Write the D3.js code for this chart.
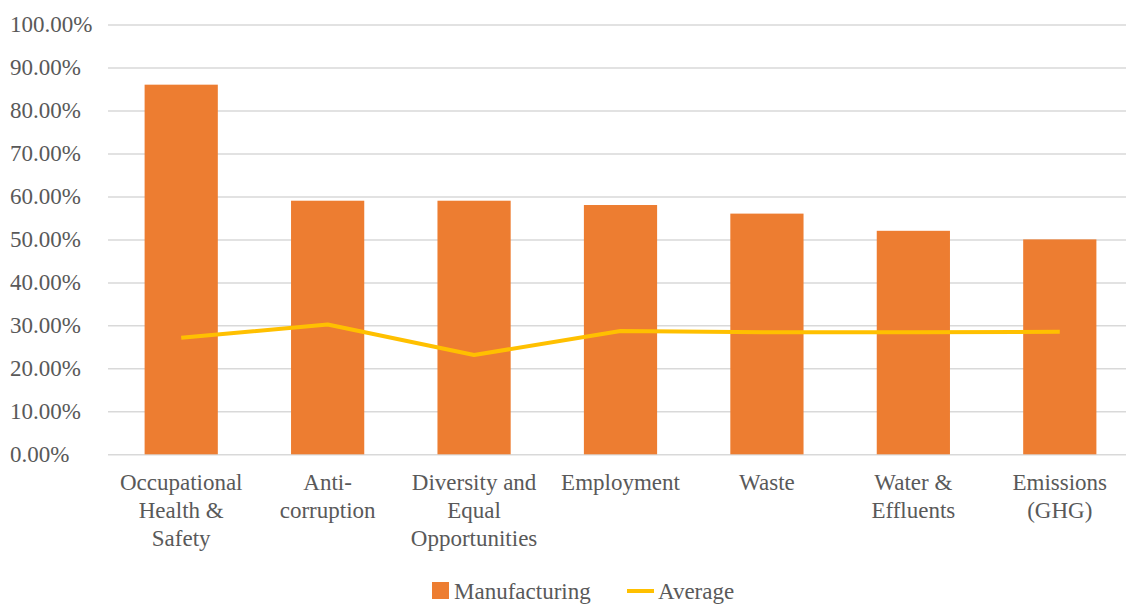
<!DOCTYPE html>
<html>
<head>
<meta charset="utf-8">
<script src="https://cdn.jsdelivr.net/npm/d3@7"></script>
</head>
<body style="margin:0">
<svg id="chart" width="1126" height="605"></svg>
<script>
// Share of reporting on each topic (percent)
const categories = [
  ["Occupational", "Health &", "Safety"],
  ["Anti-", "corruption"],
  ["Diversity and", "Equal", "Opportunities"],
  ["Employment"],
  ["Waste"],
  ["Water &", "Effluents"],
  ["Emissions", "(GHG)"]
];
const manufacturing = [86, 59, 59, 58, 56, 52, 50];
const average = [27.1, 30.2, 23.1, 28.7, 28.4, 28.4, 28.5];
const yTicks = [0, 10, 20, 30, 40, 50, 60, 70, 80, 90, 100];
const seriesNames = ["Manufacturing", "Average"];

const barColor = "#ED7D31";
const lineColor = "#FFC000";
const gridColor = "#d9d9d9";
const textColor = "#595959";

const svg = d3.select("#chart");
const keys = d3.range(categories.length);

const x = d3.scaleBand().domain(keys).range([108, 1133]).paddingInner(0.5).paddingOuter(0.25);
const y = d3.scaleLinear().domain([0, 100]).range([454.3, 24.5]);

function styleText(sel) {
  return sel.style("font-family", '"Liberation Serif"').style("font-size", "23px").attr("fill", textColor);
}

// Gridlines and value labels
const yAxis = d3.axisLeft(y).tickValues(yTicks)
  .tickSize(-(1126 - 108))
  .tickFormat(d => d.toFixed(2) + "%");
const gy = svg.append("g").attr("transform", "translate(108,0)").call(yAxis);
gy.select(".domain").remove();
gy.selectAll(".tick line").attr("stroke", gridColor).attr("stroke-width", 1.5);
gy.selectAll(".tick text")
  .attr("x", -98).attr("text-anchor", "start")
  .attr("dy", "0.32em")
  .call(styleText);

// Bars
svg.append("g").selectAll("rect").data(manufacturing).join("rect")
  .attr("x", (d, i) => x(i))
  .attr("width", x.bandwidth())
  .attr("y", d => y(d))
  .attr("height", d => y(0) - y(d))
  .attr("fill", barColor);

// Average line
const line = d3.line().x((d, i) => x(i) + x.bandwidth() / 2).y(d => y(d));
svg.append("path").datum(average)
  .attr("d", line)
  .attr("fill", "none")
  .attr("stroke", lineColor)
  .attr("stroke-width", 4)
  .attr("stroke-linejoin", "round");

// Category labels, one tspan per line
const labelRows = [];
categories.forEach((rows, i) => rows.forEach((txt, k) => labelRows.push({ i, k, txt })));
svg.append("g").selectAll("text").data(labelRows).join("text")
  .attr("x", d => x(d.i) + x.bandwidth() / 2)
  .attr("y", d => y(0) + 36 + d.k * 28)
  .attr("text-anchor", "middle")
  .text(d => d.txt)
  .call(styleText);

// Legend
const lg = svg.append("g");
lg.append("rect").attr("x", 432).attr("y", 582).attr("width", 17).attr("height", 17).attr("fill", barColor);
lg.append("text").attr("x", 454).attr("y", 598.5).text(seriesNames[0]).call(styleText);
lg.append("line").attr("x1", 627).attr("x2", 654).attr("y1", 591).attr("y2", 591)
  .attr("stroke", lineColor).attr("stroke-width", 4);
lg.append("text").attr("x", 658).attr("y", 598.5).text(seriesNames[1]).call(styleText);
</script>
</body>
</html>
